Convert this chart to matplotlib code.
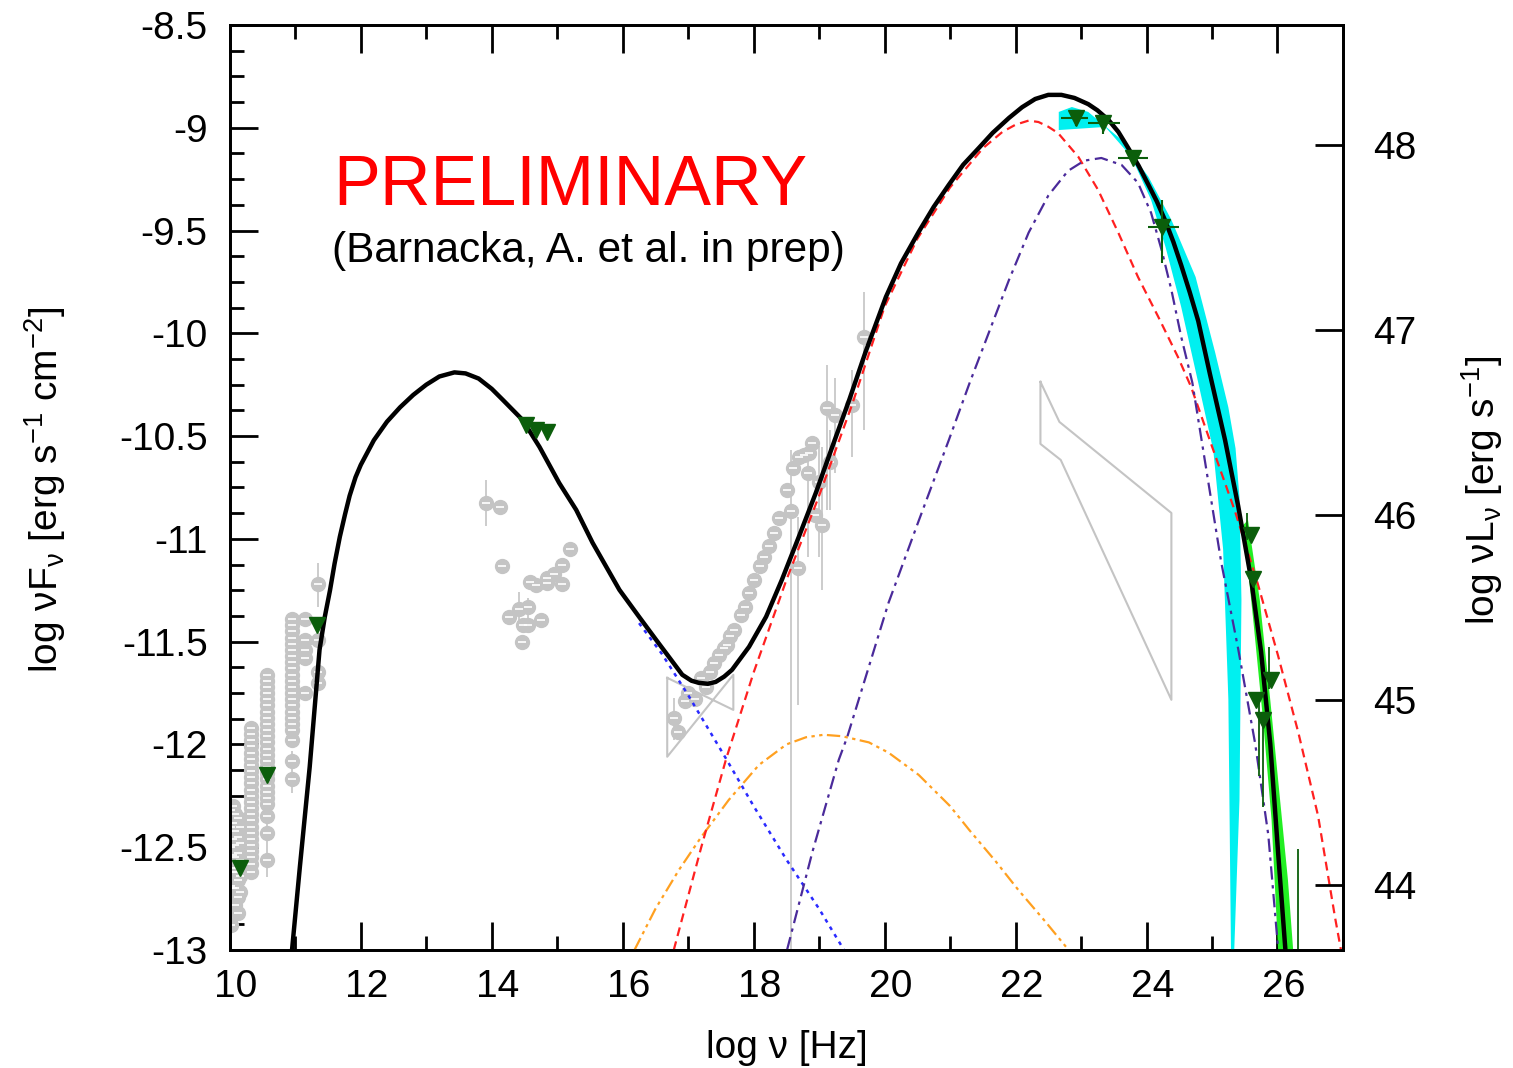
import matplotlib
matplotlib.use("Agg")
import matplotlib.pyplot as plt
from matplotlib.ticker import MultipleLocator, FuncFormatter
from matplotlib.transforms import ScaledTranslation

plt.rcParams['font.family'] = ['Liberation Sans', 'DejaVu Sans']
plt.rcParams['mathtext.default'] = 'regular'
plt.rcParams['axes.unicode_minus'] = False

# total model (black)
total_x = [10.95, 11.07, 11.22, 11.37, 11.45, 11.53, 11.6, 11.68, 11.76, 11.83, 11.92, 12.0, 12.2,
           12.4, 12.6, 12.8, 13.0, 13.2, 13.43, 13.6, 13.8, 14.0, 14.17, 14.47, 14.73, 15.03,
           15.29, 15.54, 15.95, 16.25, 16.51, 16.91, 17.05, 17.16, 17.3, 17.42, 17.55, 17.67,
           17.93, 18.19, 18.43, 18.69, 18.95, 19.2, 19.46, 19.71, 20.02, 20.25, 20.52, 20.75,
           20.98, 21.2, 21.44, 21.65, 21.9, 22.1, 22.3, 22.5, 22.7, 22.9, 23.11, 23.25, 23.42,
           23.57, 23.72, 23.88, 24.03, 24.16, 24.29, 24.41, 24.53, 24.66, 24.79, 24.97, 25.2,
           25.4, 25.6, 25.75, 25.89, 26.01, 26.12]
total_y = [-13.0, -12.595, -12.109, -11.54, -11.38, -11.25, -11.12, -10.99, -10.88, -10.79, -10.7,
           -10.64, -10.52, -10.43, -10.36, -10.3, -10.25, -10.21, -10.19, -10.195, -10.22, -10.27,
           -10.324, -10.421, -10.553, -10.728, -10.859, -11.019, -11.248, -11.379, -11.491,
           -11.661, -11.69, -11.70, -11.705, -11.696, -11.67, -11.637, -11.525, -11.379, -11.2,
           -10.99, -10.776, -10.553, -10.324, -10.09, -9.823, -9.66, -9.507, -9.385, -9.278,
           -9.18, -9.098, -9.025, -8.952, -8.9, -8.86, -8.84, -8.84, -8.855, -8.885, -8.915,
           -8.962, -9.02, -9.098, -9.185, -9.278, -9.36, -9.455, -9.555, -9.669, -9.8, -9.94,
           -10.2, -10.52, -10.84, -11.2, -11.55, -11.997, -12.527, -12.994]

# synchrotron tail (blue dotted)
sync_x = [16.25, 16.6, 17.0, 17.58, 18.0, 18.5, 19.0, 19.38]
sync_y = [-11.41, -11.56, -11.76, -12.07, -12.3, -12.56, -12.8, -13.0]

# EC component (red dashed)
ec1_x = [16.78, 17.2, 17.58, 18.0, 18.5, 19.0, 19.5, 20.0, 20.5, 21.0, 21.5, 21.8, 22.0, 22.2,
         22.35, 22.5, 22.65, 22.96, 23.26, 23.57, 23.87, 24.18, 24.48, 24.68, 25.0, 25.35, 25.7,
         26.01, 26.32, 26.62, 26.88, 26.97]
ec1_y = [-13.0, -12.5, -12.07, -11.65, -11.2, -10.79, -10.35, -9.87, -9.54, -9.29, -9.1, -9.02,
         -8.985, -8.965, -8.972, -8.995, -9.026, -9.142, -9.302, -9.511, -9.726, -9.92, -10.115,
         -10.26, -10.55, -10.864, -11.219, -11.569, -11.944, -12.347, -12.843, -13.0]

# EC component (indigo dash-dot)
ec2_x = [18.51, 18.9, 19.3, 19.43, 20.06, 20.5, 20.98, 21.3, 21.6, 21.9, 22.2, 22.5, 22.8, 23.05,
         23.31, 23.62, 23.87, 24.07, 24.23, 24.38, 24.53, 24.7, 25.14, 25.4, 25.66, 25.86, 26.01]
ec2_y = [-13.0, -12.52, -12.075, -11.963, -11.311, -10.93, -10.52, -10.24, -9.99, -9.74, -9.51,
         -9.33, -9.21, -9.16, -9.147, -9.181, -9.268, -9.414, -9.594, -9.789, -10.017, -10.24,
         -11.112, -11.535, -11.997, -12.44, -12.994]

# SSC component (orange dash-dot-dot)
ssc_x = [16.18, 16.5, 16.86, 17.2, 17.62, 18.08, 18.5, 18.8, 19.07, 19.35, 19.76, 20.06, 20.52,
         21.0, 21.29, 21.7, 22.04, 22.45, 22.81]
ssc_y = [-13.0, -12.8, -12.61, -12.45, -12.27, -12.1, -12.0, -11.965, -11.953, -11.96, -11.99,
         -12.04, -12.148, -12.3, -12.415, -12.57, -12.707, -12.86, -13.0]

# Fermi butterfly (cyan)
fermi_up_x = [22.66, 22.86, 23.11, 23.62, 24.03, 24.38, 24.75, 25.05, 25.25, 25.36, 25.42, 25.45,
              25.42, 25.34]
fermi_up_y = [-8.923, -8.899, -8.923, -9.059, -9.239, -9.448, -9.726, -10.095, -10.36, -10.56,
              -10.8, -11.297, -12.27, -13.0]
fermi_lo_x = [22.66, 23.37, 23.77, 24.07, 24.29, 24.53, 24.79, 25.02, 25.17, 25.25, 25.29]
fermi_lo_y = [-9.011, -8.996, -9.142, -9.351, -9.58, -9.872, -10.24, -10.57, -11.05, -11.78, -13.0]

# TeV band (green)
tev_up_x = [25.55, 25.73, 25.89, 26.04, 26.16, 26.24]
tev_up_y = [-10.908, -11.297, -11.783, -12.27, -12.659, -13.0]
tev_lo_x = [25.48, 25.63, 25.78, 25.91, 26.01]
tev_lo_y = [-10.932, -11.394, -11.88, -12.367, -13.0]

# archival data (grey)
arch_x = [10.02, 10.02, 10.02, 10.02, 10.02, 10.02, 10.05, 10.05, 10.05, 10.05, 10.05, 10.05,
          10.08, 10.08, 10.08, 10.08, 10.08, 10.08, 10.08, 10.12, 10.12, 10.12, 10.12, 10.12,
          10.12, 10.12, 10.16, 10.16, 10.16, 10.16, 10.16,
          10.33, 10.33, 10.33, 10.33, 10.33, 10.33, 10.33, 10.33, 10.33, 10.33, 10.33, 10.33,
          10.33, 10.33, 10.33, 10.33, 10.33, 10.33, 10.33, 10.33, 10.33, 10.33, 10.33, 10.33,
          10.57, 10.57, 10.57, 10.57, 10.57, 10.57, 10.57, 10.57, 10.57, 10.57, 10.57, 10.57,
          10.57, 10.57, 10.57, 10.57, 10.57, 10.57, 10.57, 10.57, 10.57, 10.57, 10.57, 10.57,
          10.57,
          10.95, 10.95, 10.95, 10.95, 10.95, 10.95, 10.95, 10.95, 10.95, 10.95, 10.95, 10.95,
          10.95, 10.95, 10.95, 10.95, 10.95, 10.95, 10.95, 10.95, 10.95, 10.95,
          11.15, 11.15, 11.15, 11.15, 11.15, 11.35, 11.35, 11.35, 11.35,
          13.92, 14.12, 14.15, 14.26, 14.41, 14.46, 14.47, 14.56, 14.56, 14.59, 14.68, 14.75, 14.84,
          14.84, 14.95, 15.08, 15.08, 15.19,
          16.79, 16.85, 16.95, 17.0, 17.11, 17.2, 17.27, 17.34, 17.4, 17.47, 17.55, 17.6, 17.64,
          17.7, 17.81, 17.87, 17.93, 18.01, 18.1, 18.16, 18.24, 18.31, 18.39, 18.51, 18.57, 18.6,
          18.67, 18.69, 18.77, 18.83, 18.84, 18.89, 18.93, 19.0, 19.04, 19.12, 19.16, 19.25, 19.5,
          19.68]
arch_y = [-12.32, -12.40, -12.50, -12.60, -12.69, -12.88, -12.30, -12.38, -12.46, -12.54, -12.62,
          -12.70, -12.34, -12.42, -12.49, -12.55, -12.62, -12.70, -12.78, -12.36, -12.45, -12.53,
          -12.60, -12.66, -12.74, -12.82, -12.40, -12.48, -12.56, -12.64, -12.72,
          -11.92, -11.95, -11.98, -12.01, -12.04, -12.07, -12.10, -12.13, -12.16, -12.19, -12.22,
          -12.25, -12.28, -12.31, -12.34, -12.37, -12.40, -12.43, -12.46, -12.49, -12.52, -12.55,
          -12.58, -12.62,
          -11.66, -11.69, -11.72, -11.75, -11.78, -11.81, -11.84, -11.87, -11.90, -11.93, -11.96,
          -11.99, -12.02, -12.05, -12.08, -12.11, -12.14, -12.17, -12.20, -12.23, -12.26, -12.29,
          -12.35, -12.43, -12.56,
          -11.39, -11.42, -11.45, -11.48, -11.51, -11.54, -11.57, -11.60, -11.63, -11.66, -11.69,
          -11.72, -11.75, -11.78, -11.81, -11.84, -11.87, -11.90, -11.93, -11.98, -12.08, -12.17,
          -11.39, -11.49, -11.54, -11.58, -11.75, -11.22, -11.49, -11.65, -11.70,
          -10.825, -10.844, -11.131, -11.379, -11.34, -11.50, -11.418, -11.418, -11.33, -11.209,
          -11.224, -11.394, -11.214, -11.19, -11.17, -11.219, -11.126, -11.049,
          -11.871, -11.939, -11.788, -11.749, -11.778, -11.676, -11.72, -11.647, -11.603, -11.564,
          -11.53, -11.516, -11.472, -11.443, -11.37, -11.331, -11.263, -11.2, -11.131, -11.088,
          -11.034, -10.971, -10.898, -10.762, -10.864, -10.655, -11.141, -10.601, -10.591, -10.679,
          -10.582, -10.533, -10.883, -10.723, -10.932, -10.363, -10.626, -10.397, -10.348, -10.017]

# grey error bars: x, low, high
bar_x = [13.92, 14.41, 14.56, 16.79, 18.57, 18.67, 18.83, 19.0, 19.04, 19.12, 19.16, 19.25, 19.5,
         19.68, 11.35, 10.57, 10.95]
bar_lo = [-10.937, -11.443, -11.42, -11.978, -13.0, -11.807, -11.088, -11.09, -11.248, -10.859,
          -10.86, -10.679, -10.601, -10.47, -11.331, -12.644, -12.235]
bar_hi = [-10.713, -11.258, -11.29, -11.773, -10.567, -10.893, -10.553, -10.55, -10.553, -10.154,
          -10.47, -10.217, -10.178, -9.799, -11.117, -12.284, -12.03]

# X-ray bowtie and high-energy bowtie (grey outlines)
xbow_x = [16.68, 17.69, 17.69, 16.68, 16.68]
xbow_y = [-11.676, -11.832, -11.661, -12.06, -11.676]
gbow_x = [22.38, 22.67, 24.38, 24.38, 22.69, 22.38, 22.38]
gbow_y = [-10.236, -10.431, -10.874, -11.783, -10.616, -10.538, -10.236]

# simultaneous data (dark green triangles)
low_x = [10.16, 10.57, 11.33, 14.53, 14.68, 14.84]
low_y = [-12.6, -12.148, -11.418, -10.446, -10.47, -10.48]
lat_x = [22.92, 23.34, 23.80, 24.23]
lat_y = [-8.952, -8.977, -9.147, -9.482]
lat_xlo = [22.69, 23.11, 23.57, 24.03]
lat_xhi = [23.11, 23.60, 24.03, 24.49]
lat_ylo = [-8.99, -9.03, -9.17, -9.657]
lat_yhi = [-8.93, -8.94, -9.12, -9.351]
vhe_x = [25.59, 25.63, 25.90, 25.67, 25.78]
vhe_y = [-10.98, -11.195, -11.686, -11.783, -11.88]
vbar_x = [25.53, 25.87, 25.72, 25.78, 26.31]
vbar_lo = [-11.005, -11.73, -12.153, -12.303, -12.994]
vbar_hi = [-10.874, -11.525, -11.783, -11.89, -12.508]

fig = plt.figure(figsize=(15.13, 10.68), dpi=100)
ax = fig.add_axes([0.1519, 0.1105, 0.7357, 0.8661])

grey = '#c4c4c4'
dgreen = '#0b5e0b'

ax.vlines(bar_x, bar_lo, bar_hi, color=grey, lw=1.2, zorder=1)
ax.plot(xbow_x, xbow_y, color=grey, lw=1.5, zorder=1)
ax.plot(gbow_x, gbow_y, color=grey, lw=1.5, zorder=1)
ax.plot(arch_x, arch_y, 'o', color=grey, ms=10, zorder=2)
ax.plot(arch_x, arch_y, '_', color='white', ms=6, mew=1.2, zorder=2)

ax.fill(fermi_up_x + fermi_lo_x[::-1], fermi_up_y + fermi_lo_y[::-1], color='#00f0f0', lw=0, zorder=3)
ax.fill(tev_up_x + tev_lo_x[::-1], tev_up_y + tev_lo_y[::-1], color='#22ee22', lw=0, zorder=3)

ax.plot(ssc_x, ssc_y, color='#ffa020', lw=1.6, dashes=[6, 2, 1.5, 2, 1.5, 2], zorder=4)
ax.plot(sync_x, sync_y, color='#2a2aff', lw=1.8, dashes=[1.5, 2], zorder=4)
ax.plot(ec1_x, ec1_y, color='#ff2020', lw=1.6, dashes=[4, 2.5], zorder=4)
ax.plot(ec2_x, ec2_y, color='#4a2a9a', lw=1.6, dashes=[6, 2.5, 1.5, 2.5], zorder=4)
ax.plot(total_x, total_y, color='black', lw=3.2, zorder=5, solid_joinstyle='round')

ax.plot(low_x, low_y, 'v', color=dgreen, ms=11, zorder=6)
ax.errorbar(lat_x, lat_y,
            xerr=[[a - b for a, b in zip(lat_x, lat_xlo)], [b - a for a, b in zip(lat_x, lat_xhi)]],
            yerr=[[a - b for a, b in zip(lat_y, lat_ylo)], [b - a for a, b in zip(lat_y, lat_yhi)]],
            fmt='v', color=dgreen, ms=11, elinewidth=1.5, capsize=0, zorder=6)
ax.vlines(vbar_x, vbar_lo, vbar_hi, color=dgreen, lw=1.3, zorder=6)
ax.plot(vhe_x, vhe_y, 'v', color=dgreen, ms=11, zorder=6)

ax.text(11.58, -9.375, 'PRELIMINARY', color='red', fontsize=50.5, ha='left', va='baseline')
ax.text(11.56, -9.653, '(Barnacka, A. et al. in prep)', color='black', fontsize=30.5,
        ha='left', va='baseline')

ax.set_xlim(10, 27)
ax.set_ylim(-13, -8.5)
ax.xaxis.set_major_locator(MultipleLocator(2))
ax.xaxis.set_minor_locator(MultipleLocator(1))
ax.yaxis.set_major_locator(MultipleLocator(0.5))
ax.yaxis.set_minor_locator(MultipleLocator(0.125))
ax.yaxis.set_major_formatter(FuncFormatter(lambda v, p: '%g' % v))
ax.tick_params(which='both', direction='in', top=True, right=False, width=2, labelsize=28)
ax.tick_params(which='major', length=20)
ax.tick_params(which='minor', length=10)
ax.tick_params(axis='x', pad=14)
ax.tick_params(axis='y', pad=16)
for s in ax.spines.values():
    s.set_linewidth(2)

# x labels sit a little right of their ticks in the original
shift = ScaledTranslation(6 / 100, 0, fig.dpi_scale_trans)
for lab in ax.get_xticklabels():
    lab.set_transform(lab.get_transform() + shift)

ax2 = ax.twinx()
ax2.set_ylim(43.649, 48.646)
ax2.yaxis.set_major_locator(MultipleLocator(1))
ax2.tick_params(direction='in', length=20, width=2, labelsize=28, pad=22)
for s in ax2.spines.values():
    s.set_linewidth(2)

fig.text(787 / 1513, 1 - 1048 / 1068, 'log ν [Hz]', fontsize=28, ha='center', va='center')
fig.text(45 / 1513, 0.541, 'log νF$_ν$ [erg s$^{-1}$ cm$^{-2}$]', fontsize=28, rotation=90,
         ha='center', va='center')
fig.text(1482 / 1513, 0.541, 'log νL$_ν$ [erg s$^{-1}$]', fontsize=28, rotation=90,
         ha='center', va='center')

fig.savefig('out.png', dpi=100)
